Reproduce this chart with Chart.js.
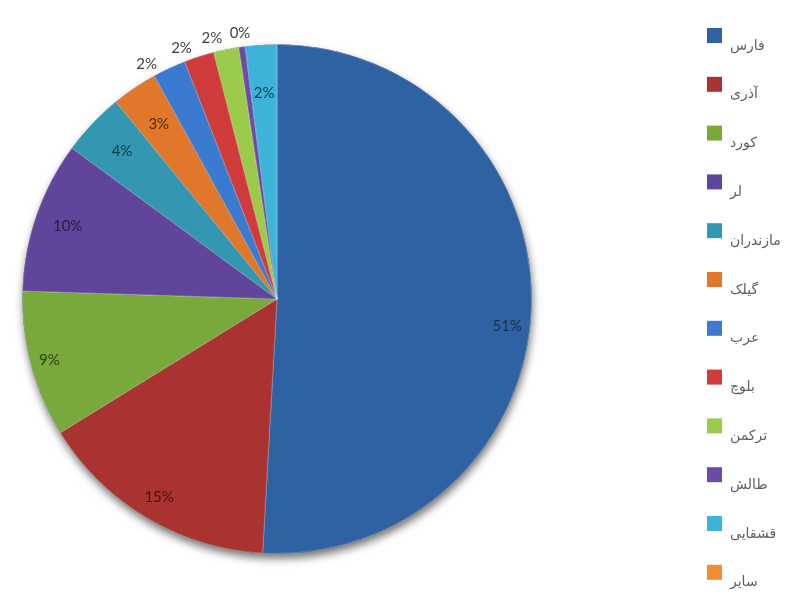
<!DOCTYPE html>
<html>
<head>
<meta charset="utf-8">
<script src="https://cdn.jsdelivr.net/npm/chart.js@4/dist/chart.umd.min.js"></script>
<style>
html,body{margin:0;padding:0;background:#ffffff;}
#wrap{position:relative;width:800px;height:600px;}
</style>
</head>
<body>
<div id="wrap"><canvas id="c" width="800" height="600"></canvas></div>
<script>
// ---- data ----
const categories = ['فارس','آذری','کورد','لر','مازندران','گیلک','عرب','بلوچ','ترکمن','طالش','قشقایی','سایر'];
const shares = [50.9, 15.3, 9.3, 9.6, 4.0, 2.9, 2.1, 1.9, 1.6, 0.4, 2.0, 0];

// ---- styles ----
const sliceColors = ['#2F62A3','#A93331','#79A93B','#61459A','#3397B2','#E0772A',
                     '#3B7BCF','#D03B3B','#9CCB4B','#6C4BA6','#3DB3DA','#F28C33'];
const labelColors = ['#16304F','#4A1210','#2B4010','#2A1B48','#0F3A48','#5A2A08',
                     '#404040','#404040','#404040','#404040','#0F3A48','#404040'];
// radial placement of value labels: fraction of radius (inside) or 'out'
const labelPlace = [0.91,0.905,0.925,0.87,0.84,0.83,'out','out','out','out',0.81,'out'];
// angular nudge of value labels, degrees
const labelNudge = [5,0,0,0,0,0,-4,-3,-2.5,0,0,0];

const shadowPlugin = {
  id:'pieShadow',
  beforeDatasetsDraw(chart){
    const arc = chart.getDatasetMeta(0).data[0];
    if(!arc) return;
    const ctx = chart.ctx;
    ctx.save();
    ctx.beginPath();
    ctx.arc(arc.x, arc.y, arc.outerRadius, 0, Math.PI*2);
    ctx.shadowColor = 'rgba(0,0,0,0.55)';
    ctx.shadowBlur = 8;
    ctx.shadowOffsetX = 1;
    ctx.shadowOffsetY = 5;
    ctx.fillStyle = '#1c2433';
    ctx.fill();
    ctx.restore();
  }
};

const valueLabelPlugin = {
  id:'valueLabels',
  afterDatasetsDraw(chart){
    const ctx = chart.ctx;
    const meta = chart.getDatasetMeta(0);
    const vals = chart.data.datasets[0].data;
    ctx.save();
    ctx.font = '15px Lato, "Open Sans", sans-serif';
    ctx.textAlign = 'center';
    ctx.textBaseline = 'middle';
    meta.data.forEach((arc,i)=>{
      const v = vals[i];
      if(v === 0) return;
      const mid = (arc.startAngle + arc.endAngle)/2 + labelNudge[i]*Math.PI/180;
      const p = labelPlace[i];
      const r = (p === 'out') ? arc.outerRadius + 14 : arc.outerRadius * p;
      const x = arc.x + r*Math.cos(mid);
      const y = arc.y + r*Math.sin(mid);
      ctx.fillStyle = labelColors[i];
      ctx.fillText(Math.round(v) + '%', x, y);
    });
    ctx.restore();
  }
};

const legendPlugin = {
  id:'sideLegend',
  afterDraw(chart){
    const ctx = chart.ctx;
    const labs = chart.data.labels;
    const cols = chart.data.datasets[0].backgroundColor;
    ctx.save();
    ctx.font = '14px "DejaVu Sans", sans-serif';
    ctx.textAlign = 'left';
    ctx.textBaseline = 'middle';
    labs.forEach((t,i)=>{
      const top = 28 + i*48.8;
      ctx.fillStyle = cols[i];
      ctx.fillRect(707, top, 15, 15);
      ctx.fillStyle = '#5f5f5f';
      ctx.fillText(t, 730, top + 18);
    });
    ctx.restore();
  }
};

new Chart(document.getElementById('c'), {
  type:'pie',
  data:{
    labels: categories,
    datasets:[{
      data: shares,
      backgroundColor: sliceColors,
      borderColor: 'rgba(255,255,255,0.35)',
      borderWidth: 0.8
    }]
  },
  options:{
    responsive:false,
    animation:false,
    layout:{padding:{left:22,right:268,top:44,bottom:46}},
    plugins:{legend:{display:false},tooltip:{enabled:false}}
  },
  plugins:[shadowPlugin, valueLabelPlugin, legendPlugin]
});
</script>
</body>
</html>
